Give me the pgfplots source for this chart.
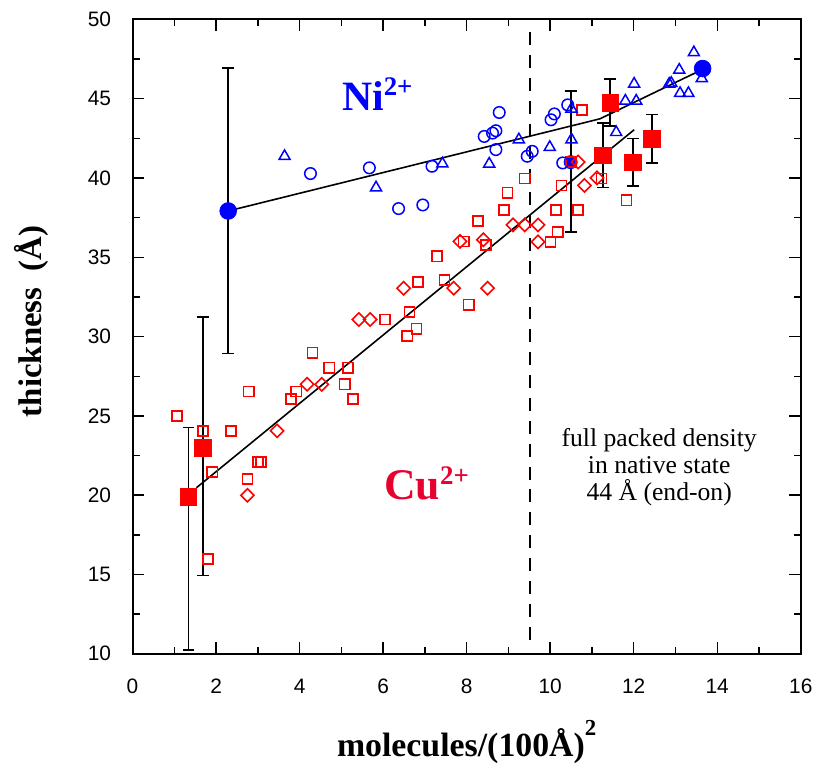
\documentclass[border=0pt]{standalone}
\usepackage{fontspec}
\setmainfont{Liberation Serif}
\newfontfamily\tickfont{Liberation Sans}
\usepackage{pgfplots}
\pgfplotsset{compat=1.18}
\usepackage{pgfplotstable}

\definecolor{nicol}{RGB}{0,0,255}
\definecolor{cucol}{RGB}{232,0,48}
\definecolor{cured}{RGB}{255,0,0}

% Cu2+ films, first series (open squares)
\pgfplotstableread{
x y
1.06 25.00
1.69 24.06
1.81 15.98
1.91 21.45
2.36 24.06
2.75 21.03
2.78 26.53
3.00 22.08
3.08 22.08
3.79 26.07
3.92 26.53
4.31 28.98
4.71 28.04
5.08 26.99
5.16 28.04
5.28 26.07
6.04 31.08
6.58 30.04
6.63 31.55
6.80 30.50
6.84 33.43
7.29 35.06
7.47 33.57
7.93 36.00
8.05 32.01
8.27 37.29
8.46 35.77
8.89 37.98
8.98 39.07
9.39 39.97
10.01 35.97
10.14 37.98
10.18 36.60
10.27 39.53
10.50 41.00
10.67 37.98
10.76 44.29
11.23 39.97
11.83 38.59
}\cusquares

% Cu2+ films, second series (open diamonds)
\pgfplotstableread{
x y
2.75 19.99
3.46 24.06
4.18 26.99
4.53 26.99
5.42 31.08
5.69 31.08
6.49 33.05
7.69 33.05
7.84 36.00
8.40 36.10
8.50 33.05
9.11 37.04
9.39 37.04
9.71 37.04
9.71 35.97
10.67 41.01
10.82 39.53
11.12 40.01
}\cudiamonds

% Ni2+ films, first series (open circles)
\pgfplotstableread{
x y
4.26 40.28
5.67 40.64
6.37 38.07
6.95 38.30
7.17 40.74
8.42 42.62
8.62 42.83
8.70 42.98
8.78 44.13
8.70 41.79
9.45 41.37
9.57 41.68
10.02 43.67
10.10 44.04
10.30 40.95
10.42 44.61
}\nicircles

% Ni2+ films, second series (open triangles)
\pgfplotstableread{
x y
3.64 41.37
5.83 39.39
7.42 40.90
8.54 40.89
9.25 42.42
9.99 41.94
10.51 44.36
10.51 42.42
11.58 42.88
11.80 44.86
12.06 44.86
12.01 45.93
12.85 45.93
12.90 45.98
13.11 45.34
13.31 45.34
13.09 46.81
13.44 47.91
13.63 46.28
}\nitriangles

% averaged Cu2+ values with error bars
\pgfplotstableread{
x y ep em
1.34 19.90 4.37 9.67
1.69 22.98 8.27 8.05
11.27 41.43 2.03 2.03
11.44 44.75 1.47 1.47
11.98 40.99 1.50 1.50
12.43 42.48 1.52 1.52
}\cumean

% averaged Ni2+ values with error bars
\pgfplotstableread{
x y ep em
2.29 37.92 9.03 8.99
13.65 46.90 0 0
}\nimean

\pgfplotstableread{
x y ep em
10.49 41.00 4.49 4.40
}\nimeanb

\pgfplotsset{
  errstyle/.style={
    error bars/.cd, y dir=both, y explicit,
    error bar style={black, line width=0.9pt},
    error mark options={black, line width=0.9pt, mark size=3pt, rotate=90}},
}

\begin{document}
\begin{tikzpicture}
\begin{axis}[
  name=ax,
  scale only axis,
  width=336pt, height=319pt,
  xmin=0, xmax=16, ymin=10, ymax=50,
  xtick={0,2,...,16}, ytick={10,15,...,50},
  minor x tick num=1, minor y tick num=1,
  tick align=inside,
  major tick length=6pt, minor tick length=3.5pt,
  every tick/.append style={black, line width=0.7pt},
  axis line style={line width=1pt},
  ticklabel style={font=\fontsize{10.5}{12}\tickfont},
  /pgf/number format/assume math mode=true,
  xticklabel style={yshift=-9pt},
  yticklabel style={xshift=-7.3pt},
  xlabel={molecules/(100Å)\raisebox{0.62em}{\fontsize{11.5}{11.5}\selectfont\bfseries 2}},
  ylabel={thickness\ \ (Å)},
  xlabel style={at={(axis description cs:0.5,-0.162)}, anchor=base,
    font=\fontsize{17}{18}\selectfont\bfseries},
  ylabel style={at={(axis description cs:-0.1363,0.524)}, anchor=base,
    font=\fontsize{16.5}{18}\selectfont\bfseries},
]

% Ni2+ average near full packing (drawn beneath the single points)
\addplot[only marks, mark=*, mark size=3.3pt, color=nicol, errstyle]
  table[x=x, y=y, y error plus=ep, y error minus=em] {\nimeanb};

% individual measurements
\addplot[only marks, mark=square, mark size=2.55pt, color=cured, line width=0.8pt,
  mark options={solid, draw=cured, line join=miter}]
  table {\cusquares};
\addplot[only marks, mark=square, mark size=2.35pt, color=cured, line width=0.8pt,
  mark options={solid, draw=cured, rotate=45}]
  table {\cudiamonds};
\addplot[only marks, mark=o, mark size=2.9pt, color=nicol, line width=0.75pt]
  table {\nicircles};
\addplot[only marks, mark=triangle, mark size=3.2pt, color=nicol, line width=0.75pt]
  table {\nitriangles};

% packing limit
\addplot[black, line width=1pt, dash pattern=on 6.5pt off 5pt]
  coordinates {(9.52,49.2) (9.52,10.7)};

% trend lines
\addplot[black, line width=0.8pt]
  coordinates {(2.29,37.92) (11.19,43.73) (13.73,46.95)};
\addplot[black, line width=0.8pt]
  coordinates {(1.53,20.47) (12.01,43.04)};

% averages
\addplot[only marks, mark=square*, mark size=4.2pt, color=cured, errstyle]
  table[x=x, y=y, y error plus=ep, y error minus=em] {\cumean};
\addplot[only marks, mark=*, mark size=4.2pt, color=nicol, errstyle]
  table[x=x, y=y, y error plus=ep, y error minus=em] {\nimean};

% labels
\node[anchor=base, text=nicol, font=\fontsize{21}{21}\selectfont\bfseries]
  at (axis cs:5.86,44.25) {Ni\raisebox{7.5pt}{\fontsize{13.5}{13.5}\selectfont 2+}};
\node[anchor=base, text=cucol, font=\fontsize{22}{22}\selectfont\bfseries]
  at (axis cs:7.04,19.73) {Cu\raisebox{7.5pt}{\fontsize{13.5}{13.5}\selectfont 2+}};
\node[align=center, font=\fontsize{12.9}{13.5}\selectfont]
  at (axis cs:12.61,21.78) {full packed density\\in native state\\44 Å (end-on)};
\end{axis}
\path ([shift={(-66.65pt,-53.15pt)}]ax.south west) rectangle ([shift={(6.85pt,9.75pt)}]ax.north east);
\end{tikzpicture}
\end{document}
